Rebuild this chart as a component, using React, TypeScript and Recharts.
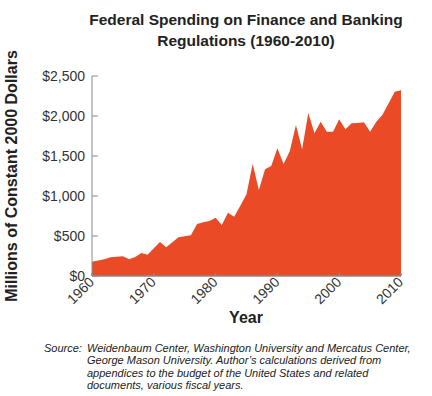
import { AreaChart, Area, XAxis, YAxis } from "recharts";

const years = [
  1960, 1961, 1962, 1963, 1964, 1965, 1966, 1967, 1968, 1969,
  1970, 1971, 1972, 1973, 1974, 1975, 1976, 1977, 1978, 1979,
  1980, 1981, 1982, 1983, 1984, 1985, 1986, 1987, 1988, 1989,
  1990, 1991, 1992, 1993, 1994, 1995, 1996, 1997, 1998, 1999,
  2000, 2001, 2002, 2003, 2004, 2005, 2006, 2007, 2008, 2009, 2010,
];

const spending = [
  179, 195, 208, 233, 242, 246, 208, 238, 288, 267,
  346, 425, 358, 421, 483, 496, 508, 650, 671, 688,
  729, 638, 792, 742, 879, 1021, 1400, 1075, 1333, 1375,
  1596, 1400, 1560, 1888, 1583, 2038, 1783, 1929, 1804, 1804,
  1958, 1833, 1908, 1913, 1921, 1804, 1929, 2017, 2158, 2304, 2321,
];

const xTicks = [1960, 1970, 1980, 1990, 2000, 2010];
const yTicks = [0, 500, 1000, 1500, 2000, 2500];

const sourceLines = [
  "Weidenbaum Center, Washington University and Mercatus Center,",
  "George Mason University. Author\u2019s calculations derived from",
  "appendices to the budget of the United States and related",
  "documents, various fiscal years.",
];

const FONT = "'Liberation Sans', Arial, sans-serif";
const FILL = "#EA4B26";
const AXIS = "#8a8a8a";

const data = years.map((year, i) => ({ year, value: spending[i] }));

const formatDollar = (v: number) => "$" + v.toLocaleString("en-US");

const YearTick = (props: any) => {
  const { x, y, payload } = props;
  return (
    <text
      x={x + 3}
      y={y}
      textAnchor="end"
      transform={`rotate(-45, ${x + 3}, ${y})`}
      fontFamily={FONT}
      fontSize={14}
      fill="#333"
    >
      {payload.value}
    </text>
  );
};

const App = () => {
  return (
    <div style={{ position: "absolute", left: 0, top: 0, width: 432, height: 396, background: "#fff" }}>
      <AreaChart
        width={432}
        height={396}
        data={data}
        margin={{ top: 76, right: 31, bottom: 80, left: 32 }}
      >
        <Area
          type="linear"
          dataKey="value"
          stroke="none"
          fill={FILL}
          fillOpacity={1}
          isAnimationActive={false}
        />
        <XAxis
          dataKey="year"
          type="number"
          domain={[1960, 2010]}
          ticks={xTicks}
          height={40}
          stroke={AXIS}
          strokeWidth={1.5}
          tickSize={-3}
          tickMargin={10}
          tick={<YearTick />}
          interval={0}
        />
        <YAxis
          domain={[0, 2500]}
          ticks={yTicks}
          width={60}
          stroke={AXIS}
          tickSize={-6}
          tickMargin={13}
          tickFormatter={formatDollar}
          tick={{ fontFamily: FONT, fontSize: 14, fill: "#333" }}
          interval={0}
        />
      </AreaChart>
      <svg
        width={432}
        height={396}
        style={{ position: "absolute", left: 0, top: 0, pointerEvents: "none" }}
      >
        <text x={246} y={25} textAnchor="middle" fontFamily={FONT} fontWeight="bold" fontSize={15.5} fill="#222">
          Federal Spending on Finance and Banking
        </text>
        <text x={246} y={46} textAnchor="middle" fontFamily={FONT} fontWeight="bold" fontSize={15.5} fill="#222">
          Regulations (1960-2010)
        </text>
        <text
          x={17}
          y={176}
          textAnchor="middle"
          transform="rotate(-90, 17, 176)"
          fontFamily={FONT}
          fontWeight="bold"
          fontSize={16}
          fill="#222"
        >
          Millions of Constant 2000 Dollars
        </text>
        <text x={246} y={323} textAnchor="middle" fontFamily={FONT} fontWeight="bold" fontSize={16} fill="#222">
          Year
        </text>
        <text x={44} y={352} fontFamily={FONT} fontStyle="italic" fontSize={11} fill="#222">
          Source:
        </text>
        {sourceLines.map((line, i) => (
          <text key={i} x={87} y={352 + i * 12.3} fontFamily={FONT} fontStyle="italic" fontSize={11} fill="#222">
            {line}
          </text>
        ))}
      </svg>
    </div>
  );
};

export default App;
